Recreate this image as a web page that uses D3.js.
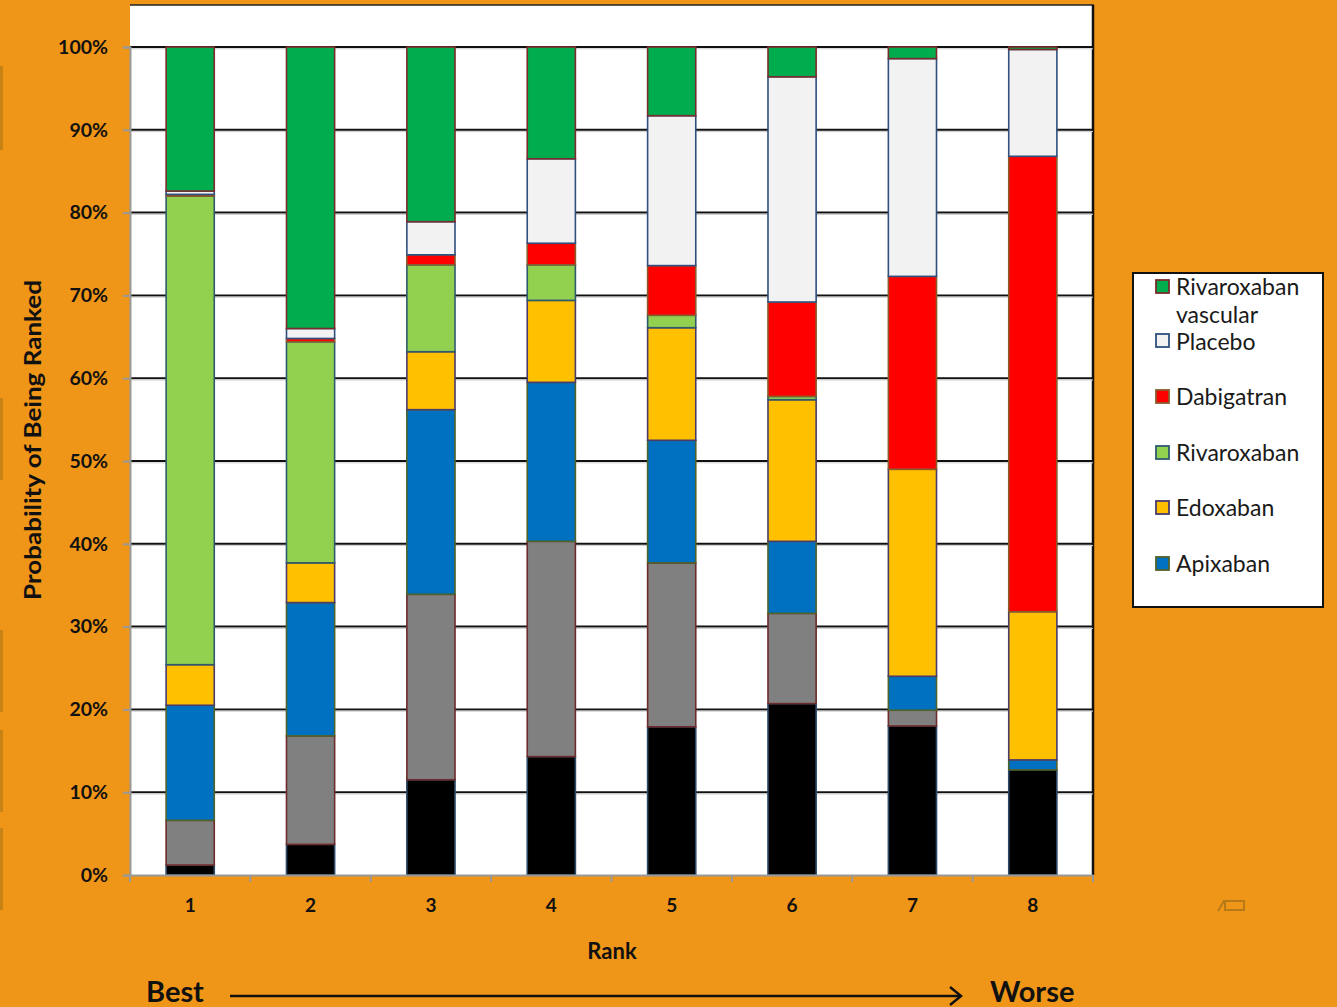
<!DOCTYPE html>
<html>
<head>
<meta charset="utf-8">
<script src="https://cdn.jsdelivr.net/npm/d3@7"></script>
<style>
  html, body { margin: 0; padding: 0; background: #EF9518; }
  svg { display: block; }
  text { font-family: Lato, "Open Sans", sans-serif; }
</style>
</head>
<body>
<svg id="chart" width="1337" height="1007"></svg>
<script>
// ---- Data (percent probability of being ranked) ----
const ranks = ["1", "2", "3", "4", "5", "6", "7", "8"];
const seriesKeys = ["Other A", "Other B", "Apixaban", "Edoxaban", "Rivaroxaban", "Dabigatran", "Placebo", "Rivaroxaban vascular"];
const otherA = [1.2, 3.7, 11.5, 14.3, 17.9, 20.7, 18.0, 12.7];
const otherB = [5.4, 13.1, 22.4, 26.0, 19.8, 10.9, 1.9, 0];
const apixaban = [13.9, 16.1, 22.3, 19.2, 14.8, 8.7, 4.1, 1.2];
const edoxaban = [4.9, 4.8, 7.0, 9.9, 13.6, 17.1, 25.0, 17.9];
const rivaroxaban = [56.6, 26.7, 10.5, 4.3, 1.5, 0.4, 0, 0];
const dabigatran = [0.2, 0.4, 1.2, 2.6, 6.0, 11.4, 23.3, 55.0];
const placebo = [0.4, 1.2, 4.0, 10.2, 18.1, 27.2, 26.3, 12.9];
const rivaroxabanVascular = [17.4, 34.0, 21.1, 13.5, 8.3, 3.6, 1.4, 0.3];
const yTicks = [0, 10, 20, 30, 40, 50, 60, 70, 80, 90, 100];
const legendOrder = ["Rivaroxaban vascular", "Placebo", "Dabigatran", "Rivaroxaban", "Edoxaban", "Apixaban"];

const fills = {
  "Other A": "#000000", "Other B": "#808080", "Apixaban": "#0070C0", "Edoxaban": "#FFC000",
  "Rivaroxaban": "#92D050", "Dabigatran": "#FF0000", "Placebo": "#F2F2F2", "Rivaroxaban vascular": "#00AC4E"
};
const strokes = {
  "Other A": "#2E4A6B", "Other B": "#6E2B2B", "Apixaban": "#4F6228", "Edoxaban": "#4B3B6B",
  "Rivaroxaban": "#2E5A6E", "Dabigatran": "#8B5A2B", "Placebo": "#2F4F7F", "Rivaroxaban vascular": "#7A2C2C"
};

const cols = [otherA, otherB, apixaban, edoxaban, rivaroxaban, dabigatran, placebo, rivaroxabanVascular];
const table = ranks.map((r, i) => {
  const row = { rank: r };
  seriesKeys.forEach((k, j) => row[k] = cols[j][i]);
  return row;
});

const svg = d3.select("#chart");
const L = 130, R = 1093, T = 47, B = 875;

// decorative marks on left edge
[[66, 150], [398, 480], [630, 712], [730, 812], [828, 910]].forEach(([a, b]) => {
  svg.append("rect").attr("x", 0).attr("y", a).attr("width", 3).attr("height", b - a).attr("fill", "#C98314");
});

// plot area
svg.append("rect").attr("x", L).attr("y", 5).attr("width", R - L).attr("height", B - 5).attr("fill", "#fff");
svg.append("line").attr("x1", L).attr("x2", R + 1).attr("y1", 5).attr("y2", 5).attr("stroke", "#222").attr("stroke-width", 1.5);
svg.append("line").attr("x1", R).attr("x2", R).attr("y1", 5).attr("y2", B).attr("stroke", "#111").attr("stroke-width", 2.5);

const x = d3.scaleBand().domain(ranks).range([L, R]).paddingInner(0.6).paddingOuter(0.3);
const y = d3.scaleLinear().domain([0, 100]).range([B, T]);

// gridlines
svg.append("g").selectAll("line").data(yTicks.filter(d => d > 0)).join("line")
  .attr("x1", L).attr("x2", R).attr("y1", d => y(d)).attr("y2", d => y(d))
  .attr("stroke", "#111").attr("stroke-width", 2);
svg.append("g").selectAll("line").data(yTicks.filter(d => d > 0)).join("line")
  .attr("x1", L).attr("x2", R).attr("y1", d => y(d) + 1.8).attr("y2", d => y(d) + 1.8)
  .attr("stroke", "#ccc").attr("stroke-width", 1);

// stacked bars
const stack = d3.stack().keys(seriesKeys)(table);
svg.append("g").selectAll("g").data(stack).join("g")
  .attr("fill", d => fills[d.key]).attr("stroke", d => strokes[d.key]).attr("stroke-width", 1.6)
  .selectAll("rect").data(d => d.filter(s => s[1] - s[0] > 0)).join("rect")
  .attr("x", d => x(d.data.rank))
  .attr("width", x.bandwidth())
  .attr("y", d => y(d[1]))
  .attr("height", d => y(d[0]) - y(d[1]));

// y axis
const yAxis = svg.append("g").attr("transform", `translate(${L},0)`)
  .call(d3.axisLeft(y).tickValues(yTicks).tickSize(7).tickPadding(15).tickFormat(d => d + "%"));
yAxis.select(".domain").attr("stroke", "#999").attr("stroke-width", 2);
yAxis.selectAll(".tick line").attr("stroke", "#999").attr("stroke-width", 2);
yAxis.selectAll(".tick text").attr("font-size", 19.5).attr("font-weight", "bold").attr("fill", "#111")
  .attr("font-family", "Lato, sans-serif");

// x axis
const xAxis = svg.append("g").attr("transform", `translate(0,${B})`)
  .call(d3.axisBottom(x).tickSize(0).tickPadding(24));
xAxis.select(".domain").attr("stroke", "#999").attr("stroke-width", 2);
xAxis.selectAll(".tick text").attr("font-size", 19).attr("font-weight", "bold").attr("fill", "#111")
  .attr("font-family", "Lato, sans-serif");
const step = (R - L) / ranks.length;
svg.append("g").selectAll("line").data(d3.range(ranks.length + 1)).join("line")
  .attr("x1", i => L + i * step).attr("x2", i => L + i * step)
  .attr("y1", B).attr("y2", B + 7).attr("stroke", "#999").attr("stroke-width", 2);

// axis titles
svg.append("text").attr("transform", `translate(41,440) rotate(-90)`).attr("text-anchor", "middle")
  .attr("font-size", 22).attr("font-weight", "bold").attr("fill", "#111")
  .attr("textLength", 320).attr("lengthAdjust", "spacingAndGlyphs").text("Probability of Being Ranked");
svg.append("text").attr("x", 612).attr("y", 959).attr("text-anchor", "middle")
  .attr("font-size", 22).attr("font-weight", "bold").attr("fill", "#111").text("Rank");

// Best -> Worse arrow
svg.append("text").attr("x", 146).attr("y", 1002).attr("font-size", 29).attr("font-weight", "bold").attr("fill", "#111").text("Best");
svg.append("text").attr("x", 990).attr("y", 1002).attr("font-size", 29).attr("font-weight", "bold").attr("fill", "#111").text("Worse");
svg.append("line").attr("x1", 230).attr("x2", 960).attr("y1", 996).attr("y2", 996).attr("stroke", "#111").attr("stroke-width", 2.5);
svg.append("path").attr("d", "M950,987 L961,996 L950,1005").attr("fill", "none").attr("stroke", "#111").attr("stroke-width", 2.5);

// small decorative icon
svg.append("path").attr("d", "M1218,911 L1224,901 L1244,901 L1244,910 L1225,910 L1225,901")
  .attr("fill", "none").attr("stroke", "#B87A16").attr("stroke-width", 2);

// legend
const lg = svg.append("g");
lg.append("rect").attr("x", 1133).attr("y", 273).attr("width", 190).attr("height", 334)
  .attr("fill", "#fff").attr("stroke", "#111").attr("stroke-width", 2);
const legendY = [287, 341, 397, 453, 508, 564];
legendOrder.forEach((k, i) => {
  const cy = legendY[i];
  lg.append("rect").attr("x", 1156).attr("y", cy - 7).attr("width", 13).attr("height", 13)
    .attr("fill", fills[k]).attr("stroke", strokes[k]).attr("stroke-width", 1.8);
  const t = lg.append("text").attr("x", 1176).attr("y", cy + 8).attr("font-size", 23).attr("fill", "#1a1a1a");
  if (k === "Rivaroxaban vascular") {
    t.text("Rivaroxaban");
    lg.append("text").attr("x", 1176).attr("y", cy + 36).attr("font-size", 23).attr("fill", "#1a1a1a").text("vascular");
  } else if (k === "Placebo") {
    t.attr("y", cy + 9).text(k);
  } else {
    t.text(k);
  }
});
</script>
</body>
</html>
